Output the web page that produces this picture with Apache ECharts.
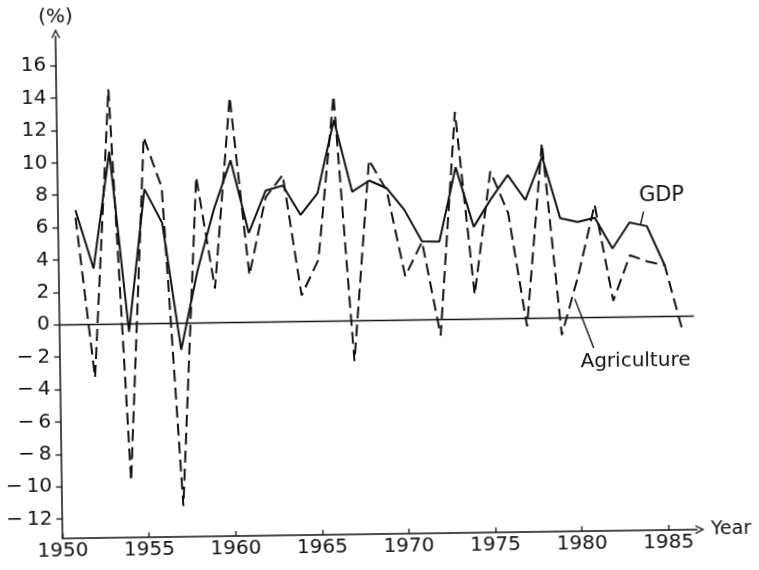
<!DOCTYPE html>
<html>
<head>
<meta charset="utf-8">
<title>GDP and agriculture growth</title>
<script src="https://cdn.jsdelivr.net/npm/echarts@6/dist/echarts.min.js"></script>
<style>
html, body { margin: 0; padding: 0; background: #fff; }
/* the scanned figure is tilted slightly */
#main { width: 759px; height: 570px; transform: rotate(-0.8deg); }
</style>
</head>
<body>
<div id="main"></div>
<script>
// Years (GDP runs 1951-1985, agriculture one year more)
var years = [1951, 1952, 1953, 1954, 1955, 1956, 1957, 1958, 1959, 1960,
             1961, 1962, 1963, 1964, 1965, 1966, 1967, 1968, 1969, 1970,
             1971, 1972, 1973, 1974, 1975, 1976, 1977, 1978, 1979, 1980,
             1981, 1982, 1983, 1984, 1985, 1986];

// Growth rates (%)
var gdp = [7.05, 3.44, 10.65, -0.5, 8.3, 6.2, -1.65, 3.2, 7.0, 10.0,
           5.5, 8.1, 8.4, 6.57, 7.9, 12.4, 7.96, 8.63, 8.15, 6.8,
           4.83, 4.8, 9.38, 5.69, 7.37, 8.85, 7.3, 9.95, 6.14, 5.9,
           6.14, 4.23, 5.82, 5.58, 3.15];
var agriculture = [6.6, -3.3, 14.5, -9.7, 11.5, 8.4, -11.3, 9.0, 2.1, 13.9,
                   2.9, 7.7, 9.05, 1.6, 3.8, 13.9, -2.5, 9.9, 8.0, 2.7,
                   4.8, -1.0, 12.8, 1.5, 9.1, 6.5, -0.5, 10.8, -1.07, 2.6,
                   6.95, 1.0, 3.8, 3.4, 3.15, -1.0];

// Tick labels
var xTicks = [1950, 1955, 1960, 1965, 1970, 1975, 1980, 1985];
var yTicks = [-12, -10, -8, -6, -4, -2, 0, 2, 4, 6, 8, 10, 12, 14, 16];

var ink = '#111';
var font = 'DejaVu Sans, sans-serif';
// open arrow head for the axis ends
var arrowHead = 'path://M0,10 L5,0 L10,10 L8.4,10 L5,3.2 L1.6,10 Z';

var myChart = echarts.init(document.getElementById('main'));

var option = {
    animation: false,
    backgroundColor: '#fff',
    grid: { left: 57.5, right: 65.5, top: 32, bottom: 36 },
    xAxis: {
        type: 'value',
        min: 1950,
        max: 1986.65,
        name: 'Year',
        nameLocation: 'end',
        nameGap: 14,
        nameTextStyle: { color: ink, fontSize: 19, fontFamily: font },
        splitLine: { show: false },
        axisLine: {
            onZero: false,
            lineStyle: { color: ink, width: 1.5 },
            symbol: ['none', arrowHead],
            symbolSize: [9, 9],
            symbolOffset: [0, 3]
        },
        axisTick: { inside: true, length: 5, customValues: xTicks, lineStyle: { color: ink, width: 1.3 } },
        axisLabel: {
            customValues: xTicks,
            color: ink, fontSize: 20, fontFamily: font, margin: 3,
            formatter: function (v) { return String(v); }
        }
    },
    yAxis: {
        type: 'value',
        min: -13.2,
        max: 17.8,
        name: '(%)',
        nameLocation: 'end',
        nameGap: 9,
        nameTextStyle: { color: ink, fontSize: 20, fontFamily: font },
        splitLine: { show: false },
        axisLine: {
            show: true,
            onZero: false,
            lineStyle: { color: ink, width: 1.5 },
            symbol: ['none', arrowHead],
            symbolSize: [9, 9],
            symbolOffset: [0, 3]
        },
        axisTick: { show: true, length: 6, customValues: yTicks, lineStyle: { color: ink, width: 1.3 } },
        axisLabel: {
            customValues: yTicks,
            color: ink, fontSize: 20, fontFamily: font, margin: 10,
            formatter: function (v) {
                return v < 0 ? '\u2212\u2009' + Math.abs(v) : String(v);
            }
        }
    },
    series: [
        {
            name: 'Agriculture',
            type: 'line',
            data: agriculture.map(function (v, i) { return [years[i], v]; }),
            symbol: 'none',
            lineStyle: { color: ink, width: 2, type: [12, 6] },
            z: 3
        },
        {
            name: 'GDP',
            type: 'line',
            data: gdp.map(function (v, i) { return [years[i], v]; }),
            symbol: 'none',
            lineStyle: { color: ink, width: 2 },
            z: 4,
            markLine: {
                silent: true,
                symbol: 'none',
                label: { show: false },
                lineStyle: { color: ink, width: 1.4, type: 'solid' },
                data: [{ yAxis: 0 }]
            }
        }
    ]
};

myChart.setOption(option);

// labels with leader lines, anchored in data space
function px(p) { return myChart.convertToPixel({ gridIndex: 0 }, p); }
var gdpText = px([1984.87, 7.43]);
var gdpFrom = px([1983.82, 6.48]), gdpTo = px([1983.64, 5.69]);
var agrText = px([1983.24, -2.73]);
var agrFrom = px([1980.83, -1.9]), agrTo = px([1979.78, 1.15]);

myChart.setOption({
    graphic: [
        { type: 'text', x: gdpText[0], y: gdpText[1],
          style: { text: 'GDP', fill: ink, fontSize: 21, fontFamily: font, align: 'center', verticalAlign: 'middle' } },
        { type: 'line', shape: { x1: gdpFrom[0], y1: gdpFrom[1], x2: gdpTo[0], y2: gdpTo[1] },
          style: { stroke: ink, lineWidth: 1.4 } },
        { type: 'text', x: agrText[0], y: agrText[1],
          style: { text: 'Agriculture', fill: ink, fontSize: 20, fontFamily: font, align: 'center', verticalAlign: 'middle' } },
        { type: 'line', shape: { x1: agrFrom[0], y1: agrFrom[1], x2: agrTo[0], y2: agrTo[1] },
          style: { stroke: ink, lineWidth: 1.4 } }
    ]
});
</script>
</body>
</html>
